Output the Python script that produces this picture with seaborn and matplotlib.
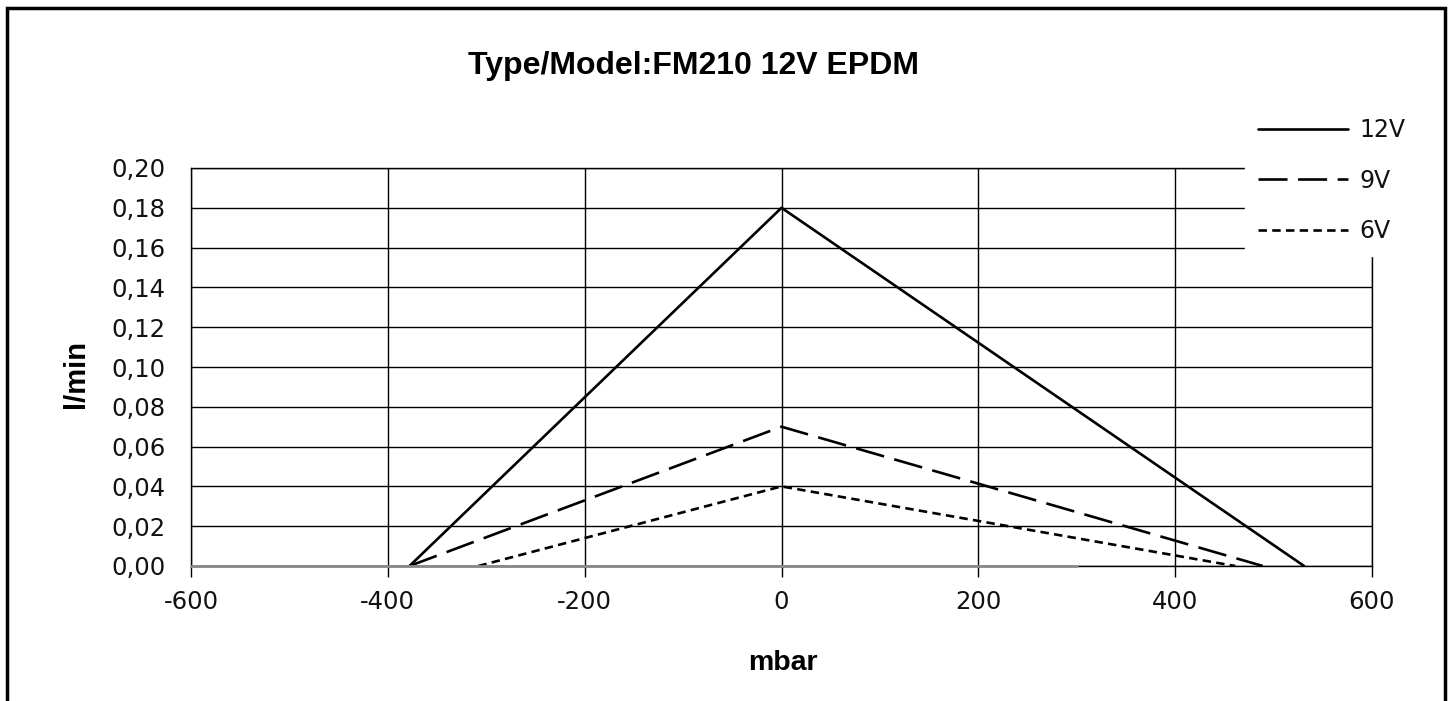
import matplotlib
matplotlib.use("Agg")
import matplotlib.pyplot as plt
import seaborn as sns
import pandas as pd
from matplotlib.patches import Rectangle
from matplotlib.ticker import FuncFormatter

# data
pressure_12v = [-378, 0, 531]
flow_12v = [0.0, 0.18, 0.0]
pressure_9v = [-378, 0, 489]
flow_9v = [0.0, 0.07, 0.0]
pressure_6v = [-308, 0, 461]
flow_6v = [0.0, 0.04, 0.0]
base_x = [-600, 300]
base_y = [0.0, 0.0]
x_ticks = [-600, -400, -200, 0, 200, 400, 600]
y_ticks = [0.00, 0.02, 0.04, 0.06, 0.08, 0.10, 0.12, 0.14, 0.16, 0.18, 0.20]

sns.set_theme(style="white")
plt.rcParams['font.family'] = ['DejaVu Sans']
plt.rcParams['axes.unicode_minus'] = False
plt.rcParams['text.color'] = 'black'

W, H = 1453, 701
fig = plt.figure(figsize=(W / 100, H / 100), dpi=100)
ax = fig.add_axes([191 / W, 1 - 566 / H, (1372 - 191) / W, (566 - 168) / H])

series = [
    ("12V", pressure_12v, flow_12v, (None, None)),
    ("9V", pressure_9v, flow_9v, (11, 4)),
    ("6V", pressure_6v, flow_6v, (3.2, 2.0)),
]
handles = []
for name, xs, ys, dash in series:
    df = pd.DataFrame({"mbar": xs, "flow": ys})
    sns.lineplot(data=df, x="mbar", y="flow", ax=ax, color="black", lw=1.9,
                 sort=False, zorder=4, legend=False)
    ln = ax.lines[-1]
    if dash[0] is not None:
        ln.set_dashes(dash)
    ln.set_label(name)
    handles.append(ln)

dfb = pd.DataFrame({"mbar": base_x, "flow": base_y})
sns.lineplot(data=dfb, x="mbar", y="flow", ax=ax, color="#8a8a8a", lw=2.0,
             zorder=5, legend=False)
ax.lines[-1].set_clip_on(False)

ax.set_xlim(-600, 600)
ax.set_ylim(0, 0.20)
ax.set_xticks(x_ticks)
ax.set_yticks(y_ticks)
ax.yaxis.set_major_formatter(FuncFormatter(lambda v, p: f"{v:.2f}".replace(".", ",")))
ax.grid(True, color="black", lw=1.0)
for s in ax.spines.values():
    s.set_color("black")
    s.set_linewidth(1.0)
ax.tick_params(axis="x", length=8, width=1.0, color="black", direction="out",
               bottom=True, labelsize=17.5, pad=9, labelcolor="#111111")
ax.tick_params(axis="y", length=0, labelsize=17.5, pad=18.5, labelcolor="#111111")

ax.set_xlabel("")
ax.set_ylabel("")
fig.text(783 / W, 1 - 663 / H, "mbar", ha="center", va="center",
         fontsize=20.5, fontweight="bold", family="Liberation Sans", color="black")
fig.text(76 / W, 1 - 374 / H, "l/min", ha="center", va="center", rotation=90,
         fontsize=21, fontweight="bold", family="Liberation Sans", color="black")
fig.text(693 / W, 1 - 66 / H, "Type/Model:FM210 12V EPDM", ha="center", va="center",
         fontsize=23, fontweight="bold", family="Liberation Sans", color="black")

leg = fig.legend(handles=handles, labels=[h.get_label() for h in handles],
                 loc="lower left", bbox_to_anchor=(1245 / W, 1 - 256 / H),
                 frameon=True, facecolor="white", edgecolor="white", framealpha=1,
                 fancybox=False, fontsize=17, handlelength=3.8, handletextpad=0.5,
                 borderpad=0.55, labelspacing=1.12, borderaxespad=0)
for t in leg.get_texts():
    t.set_color("#111111")

fig.patches.append(Rectangle((7 / W, -0.05), (1445 - 7) / W, 1 - 8 / H + 0.05,
                             transform=fig.transFigure, fill=False,
                             edgecolor="black", lw=2.5, zorder=10))

fig.savefig("out.png", dpi=100, facecolor="white")
